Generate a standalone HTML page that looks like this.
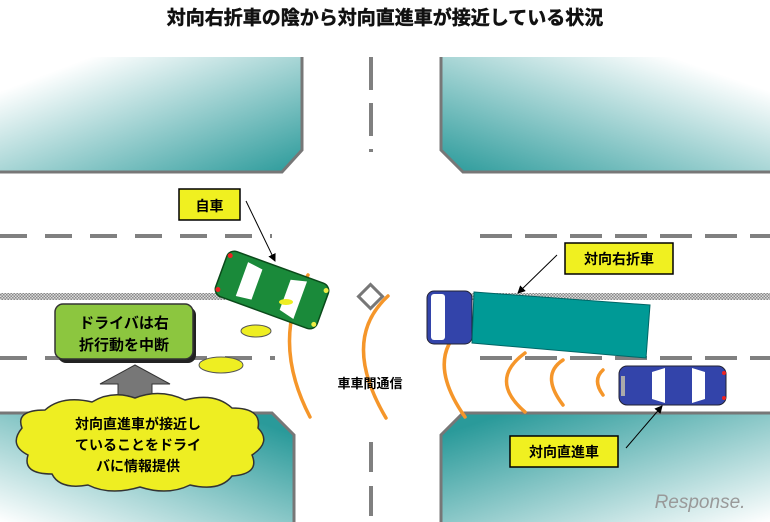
<!DOCTYPE html>
<html><head><meta charset="utf-8"><style>
html,body{margin:0;padding:0;background:#fff;}
svg{display:block;font-family:"Liberation Sans","Noto Sans CJK JP",sans-serif;font-weight:bold;}
</style></head><body>
<svg width="770" height="522" viewBox="0 0 770 522" xmlns="http://www.w3.org/2000/svg">
<defs>
<linearGradient id="gTL" x1="0" y1="0" x2="1" y2="1"><stop offset="0.15" stop-color="#fff"/><stop offset="1" stop-color="#2a9a9a"/></linearGradient>
<linearGradient id="gTR" x1="1" y1="0" x2="0" y2="1"><stop offset="0.15" stop-color="#fff"/><stop offset="1" stop-color="#2a9a9a"/></linearGradient>
<linearGradient id="gBL" x1="0" y1="1" x2="1" y2="0"><stop offset="0" stop-color="#fff"/><stop offset="0.9" stop-color="#2a9a9a"/></linearGradient>
<linearGradient id="gBR" x1="1" y1="1" x2="0" y2="0"><stop offset="0" stop-color="#fff"/><stop offset="0.9" stop-color="#2a9a9a"/></linearGradient>
<pattern id="chk" width="3" height="3" patternUnits="userSpaceOnUse"><rect width="3" height="3" fill="#ddd"/><rect width="1.5" height="1.5" fill="#888"/><rect x="1.5" y="1.5" width="1.5" height="1.5" fill="#888"/></pattern>
<marker id="ar" markerWidth="8" markerHeight="8" refX="7" refY="4" orient="auto"><path d="M0,0 L8,4 L0,8 z" fill="#000"/></marker>
</defs>
<text x="385" y="24" text-anchor="middle" font-size="19" fill="#111" stroke="#111" stroke-width="0.5">対向右折車の陰から対向直進車が接近している状況</text>

<!-- blocks -->
<path d="M0,57 H302 V150 L282,172 H0 Z" fill="url(#gTL)"/>
<path d="M302,57 V150 L282,172 H0" fill="none" stroke="#777" stroke-width="3"/>
<path d="M770,57 H441 V150 L463,172 H770 Z" fill="url(#gTR)"/>
<path d="M441,57 V150 L463,172 H770" fill="none" stroke="#777" stroke-width="3"/>
<path d="M0,413 H272 L294,435 V522 H0 Z" fill="url(#gBL)"/>
<path d="M0,413 H272 L294,435 V522" fill="none" stroke="#777" stroke-width="3"/>
<path d="M770,413 H463 L441,435 V522 H770 Z" fill="url(#gBR)"/>
<path d="M770,413 H463 L441,435 V522" fill="none" stroke="#777" stroke-width="3"/>

<!-- road markings -->
<g stroke="#808080" stroke-width="4">
<line x1="0" y1="236" x2="272" y2="236" stroke-dasharray="27,18"/>
<line x1="480" y1="236" x2="770" y2="236" stroke-dasharray="32,13"/>
<line x1="0" y1="358" x2="275" y2="358" stroke-dasharray="27,18"/>
<line x1="480" y1="358" x2="770" y2="358" stroke-dasharray="32,13"/>
<line x1="371" y1="57" x2="371" y2="152" stroke-dasharray="33,13"/>
<line x1="371" y1="442" x2="371" y2="522" stroke-dasharray="30,14"/>
</g>
<rect x="0" y="293" width="225" height="7" fill="url(#chk)"/>
<rect x="470" y="293" width="300" height="7" fill="url(#chk)"/>

<!-- orange waves -->
<g fill="none" stroke="#f5962a" stroke-width="3.5" stroke-linecap="round">
<path d="M308,275 Q270,340 310,417"/>
<path d="M388,296 Q340,340 386,418"/>
<path d="M462,328 Q425,360 465,417"/>
<path d="M525,353 Q488,380 525,412"/>
<path d="M563,360 Q540,375 563,405"/>
<path d="M603,370 Q592,380 603,395"/>
</g>
<rect x="362" y="288" width="17" height="17" fill="#fff" stroke="#777" stroke-width="3" transform="rotate(45 370.5 296.5)"/>

<!-- yellow ellipses -->
<ellipse cx="256" cy="331" rx="15" ry="6" fill="#eeee22" stroke="#555" stroke-width="1"/>
<ellipse cx="221" cy="365" rx="22" ry="8" fill="#eeee22" stroke="#555" stroke-width="1"/>

<!-- green car -->
<g transform="rotate(20 272 290)">
<rect x="218" y="266" width="108" height="48" rx="8" fill="#1a8a3a" stroke="#0a4a1a" stroke-width="1.5"/>
<path d="M240,272 L256,274 L256,306 L240,308 Z" fill="#fff"/>
<path d="M286,274 L302,270 L302,310 L286,306 Z" fill="#fff"/>
<circle cx="221" cy="272" r="2.5" fill="#e22"/><circle cx="221" cy="308" r="2.5" fill="#e22"/>
<circle cx="323" cy="272" r="2.5" fill="#ee4"/><circle cx="323" cy="308" r="2.5" fill="#ee4"/>
</g>
<ellipse cx="286" cy="302" rx="7" ry="3" fill="#eeee22"/>

<!-- truck -->
<rect x="427" y="291" width="45" height="53" rx="7" fill="#3344aa" stroke="#223" stroke-width="1"/>
<rect x="431" y="294" width="14" height="46" rx="3" fill="#fff"/>
<path d="M474,292 L650,305 L646,358 L472,343 Z" fill="#009a96" stroke="#066" stroke-width="1"/>

<!-- blue car -->
<rect x="619" y="366" width="107" height="39" rx="8" fill="#3344aa" stroke="#223" stroke-width="1"/>
<path d="M652,372 L665,368 L665,403 L652,399 Z" fill="#fff"/>
<path d="M692,368 L705,372 L705,399 L692,403 Z" fill="#fff"/>
<rect x="621" y="376" width="4" height="20" fill="#aaa"/>
<circle cx="724" cy="373" r="2" fill="#e22"/><circle cx="724" cy="398" r="2" fill="#e22"/>

<!-- label boxes -->
<rect x="179" y="189" width="61" height="31" fill="#f0f020" stroke="#000" stroke-width="1.5"/>
<text x="209.5" y="211" text-anchor="middle" font-size="14">自車</text>
<line x1="246" y1="201" x2="275" y2="261" stroke="#000" stroke-width="1" marker-end="url(#ar)"/>
<rect x="565" y="243" width="108" height="31" fill="#f0f020" stroke="#000" stroke-width="1.5"/>
<text x="619" y="264" text-anchor="middle" font-size="14">対向右折車</text>
<line x1="557" y1="255" x2="518" y2="293" stroke="#000" stroke-width="1" marker-end="url(#ar)"/>
<rect x="510" y="436" width="108" height="31" fill="#f0f020" stroke="#000" stroke-width="1.5"/>
<text x="564" y="457" text-anchor="middle" font-size="14">対向直進車</text>
<line x1="626" y1="448" x2="662" y2="406" stroke="#000" stroke-width="1" marker-end="url(#ar)"/>

<text x="370" y="388" text-anchor="middle" font-size="13">車車間通信</text>

<!-- green box -->
<rect x="58" y="307" width="138" height="56" rx="8" fill="#222"/>
<rect x="55" y="304" width="138" height="55" rx="8" fill="#8cc63f" stroke="#333" stroke-width="1.5"/>
<text x="124" y="328" text-anchor="middle" font-size="15">ドライバは右</text>
<text x="124" y="350" text-anchor="middle" font-size="15">折行動を中断</text>

<!-- gray arrow -->
<path d="M100,384 L135,365 L170,384 L152,384 L152,402 L118,402 L118,384 Z" fill="#777" stroke="#333" stroke-width="1"/>

<!-- cloud -->
<path d="M45,410 Q62,395 92,402 Q112,390 135,398 Q160,388 185,400 Q215,392 232,408 Q262,408 258,428 Q272,442 252,455 Q260,474 232,476 Q220,492 190,485 Q168,496 140,487 Q110,496 88,485 Q60,490 52,474 Q22,474 28,455 Q8,445 22,428 Q15,410 45,410 Z" fill="#eeee22" stroke="#333" stroke-width="1.5"/>
<text x="138" y="429" text-anchor="middle" font-size="14">対向直進車が接近し</text>
<text x="138" y="450" text-anchor="middle" font-size="14">ていることをドライ</text>
<text x="138" y="471" text-anchor="middle" font-size="14">バに情報提供</text>

<!-- logo -->
<text x="700" y="508" text-anchor="middle" font-size="19" font-weight="normal" fill="#999" font-style="italic">Response.</text>
</svg>
</body></html>
